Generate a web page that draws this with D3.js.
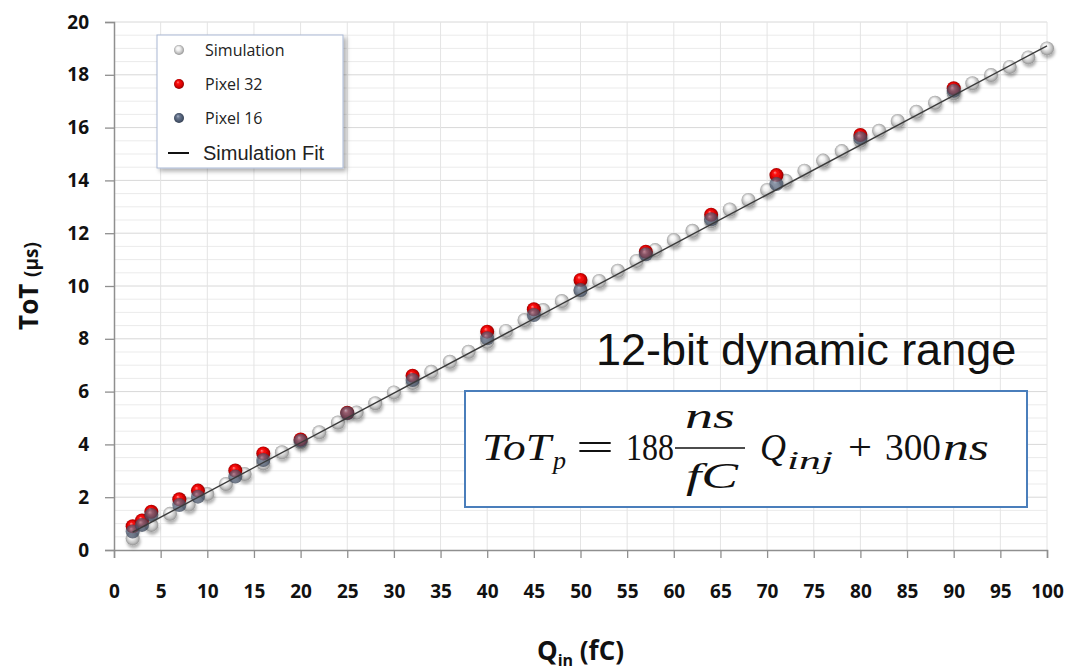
<!DOCTYPE html>
<html>
<head>
<meta charset="utf-8">
<script src="https://cdn.jsdelivr.net/npm/d3@7"></script>
<style>
  body { margin: 0; background: #fff; }
  svg { display: block; }
</style>
</head>
<body>
<svg width="1070" height="672"></svg>
<script>
// values
let simQ = [2, 4, 6, 8, 10, 12, 14, 16, 18, 20, 22, 24, 26, 28, 30, 32, 34, 36, 38, 40,
            42, 44, 46, 48, 50, 52, 54, 56, 58, 60, 62, 64, 66, 68, 70, 72, 74, 76, 78, 80,
            82, 84, 86, 88, 90, 92, 94, 96, 98, 100];
let simToT = [0.44, 0.95, 1.37, 1.72, 2.12, 2.50, 2.88, 3.28, 3.70, 4.08, 4.46, 4.83, 5.21, 5.56, 5.97, 6.33, 6.75, 7.13, 7.51, 7.89,
              8.30, 8.71, 9.09, 9.43, 9.82, 10.19, 10.58, 10.95, 11.36, 11.74, 12.09, 12.45, 12.90, 13.26, 13.64, 13.99, 14.37, 14.75, 15.11, 15.50,
              15.88, 16.25, 16.60, 16.94, 17.30, 17.68, 17.99, 18.30, 18.66, 19.00];

let pixQ = [2, 3, 4, 7, 9, 13, 16, 20, 25, 32, 40, 45, 50, 57, 64, 71, 80, 90];
let pix32ToT = [0.90, 1.12, 1.45, 1.92, 2.25, 3.01, 3.66, 4.19, 5.20, 6.60, 8.27, 9.12, 10.23, 11.30, 12.70, 14.20, 15.72, 17.49];
let pix16ToT = [0.70, 0.95, 1.33, 1.70, 2.02, 2.78, 3.41, 4.14, 5.18, 6.44, 8.02, 8.90, 9.85, 11.20, 12.53, 13.86, 15.60, 17.40];

let fitQ = [2, 100];
let fitToT = [0.68, 19.1];

let xTicks = [0, 5, 10, 15, 20, 25, 30, 35, 40, 45, 50, 55, 60, 65, 70, 75, 80, 85, 90, 95, 100];
let yTicks = [0, 2, 4, 6, 8, 10, 12, 14, 16, 18, 20];

let svg = d3.select("svg");
let defs = svg.append("defs");

// plot area
let x = d3.scaleLinear().domain([0, 100]).range([114, 1047]);
let y = d3.scaleLinear().domain([0, 20]).range([550, 22]);

// sphere gradients
function sphere(id, stops) {
  let g = defs.append("radialGradient").attr("id", id)
    .attr("cx", "50%").attr("cy", "50%").attr("r", "55%")
    .attr("fx", "38%").attr("fy", "30%");
  stops.forEach(s => g.append("stop").attr("offset", s[0]).attr("stop-color", s[1]));
}
sphere("gSim", [["0%", "#ffffff"], ["35%", "#f0f0f0"], ["70%", "#c0c0c0"], ["100%", "#858585"]]);
sphere("gRed", [["0%", "#ff8a8a"], ["25%", "#ff1010"], ["70%", "#d00000"], ["100%", "#700000"]]);
sphere("gBlue", [["0%", "#a8b4c8"], ["30%", "#6a7890"], ["75%", "#46536a"], ["100%", "#2a3444"]]);

let shadow = defs.append("filter").attr("id", "shadow")
  .attr("x", "-50%").attr("y", "-50%").attr("width", "200%").attr("height", "200%");
shadow.append("feDropShadow").attr("dx", 1).attr("dy", 3).attr("stdDeviation", 1.6)
  .attr("flood-color", "#000").attr("flood-opacity", 0.3);

let boxShadow = defs.append("filter").attr("id", "boxShadow")
  .attr("x", "-10%").attr("y", "-10%").attr("width", "130%").attr("height", "130%");
boxShadow.append("feDropShadow").attr("dx", 3).attr("dy", 3).attr("stdDeviation", 2)
  .attr("flood-color", "#000").attr("flood-opacity", 0.3);

// gridlines
let grid = svg.append("g");
grid.selectAll(".hmin")
  .data(d3.range(0.5, 20.01, 0.5))
  .enter().append("line")
  .attr("x1", x(0)).attr("x2", x(100))
  .attr("y1", d => y(d)).attr("y2", d => y(d))
  .attr("stroke", d => d % 2 === 0 ? "#d8d8d8" : "#ebebeb")
  .attr("stroke-width", 1);
grid.selectAll(".vmaj")
  .data(xTicks.slice(1))
  .enter().append("line")
  .attr("x1", d => x(d)).attr("x2", d => x(d))
  .attr("y1", y(0)).attr("y2", y(20))
  .attr("stroke", "#e4e4e4")
  .attr("stroke-width", 1);

// axes
let xAxis = d3.axisBottom(x).tickValues(xTicks).tickSize(8).tickPadding(27);
let gx = svg.append("g")
  .attr("transform", `translate(0, ${y(0)})`)
  .call(xAxis);

let yAxis = d3.axisLeft(y).tickValues(yTicks).tickSize(9).tickPadding(16);
let gy = svg.append("g")
  .attr("transform", `translate(${x(0)}, 0)`)
  .call(yAxis);

[gx, gy].forEach(g => {
  g.select(".domain").attr("stroke", "#8f8f8f").attr("stroke-width", 1.5);
  g.selectAll(".tick line").attr("stroke", "#8f8f8f").attr("stroke-width", 1.3);
  g.selectAll(".tick text")
    .attr("fill", "#111")
    .style("font-family", "'Open Sans', sans-serif")
    .style("font-weight", "bold")
    .style("font-size", "19px");
});

// simulation points
svg.append("g").selectAll("circle")
  .data(simQ.map((q, i) => [q, simToT[i]]))
  .enter().append("circle")
  .attr("cx", d => x(d[0]))
  .attr("cy", d => y(d[1]))
  .attr("r", 7)
  .attr("fill", "url(#gSim)")
  .attr("filter", "url(#shadow)");

// pixel 32
svg.append("g").selectAll("circle")
  .data(pixQ.map((q, i) => [q, pix32ToT[i]]))
  .enter().append("circle")
  .attr("cx", d => x(d[0]))
  .attr("cy", d => y(d[1]))
  .attr("r", 7)
  .attr("fill", "url(#gRed)")
  .attr("filter", "url(#shadow)");

// pixel 16
svg.append("g").selectAll("circle")
  .data(pixQ.map((q, i) => [q, pix16ToT[i]]))
  .enter().append("circle")
  .attr("cx", d => x(d[0]))
  .attr("cy", d => y(d[1]))
  .attr("r", 7)
  .attr("fill", "url(#gBlue)")
  .attr("opacity", 0.72);

// simulation fit
let line = d3.line().x(d => x(d[0])).y(d => y(d[1]));
svg.append("path")
  .datum(fitQ.map((q, i) => [q, fitToT[i]]))
  .attr("d", line)
  .attr("fill", "none")
  .attr("stroke", "#3a3a3a")
  .attr("stroke-width", 1.4);

// axis titles
let yt = svg.append("text")
  .attr("transform", `translate(38, ${(y(0) + y(20)) / 2}) rotate(-90)`)
  .attr("text-anchor", "middle")
  .style("font-family", "'Open Sans', sans-serif")
  .style("font-weight", "bold")
  .attr("fill", "#111");
yt.append("tspan").style("font-size", "26px").text("ToT ");
yt.append("tspan").style("font-size", "19px").text("(μs)");

let xt = svg.append("text")
  .attr("x", (x(0) + x(100)) / 2)
  .attr("y", 660)
  .attr("text-anchor", "middle")
  .style("font-family", "'Open Sans', sans-serif")
  .style("font-weight", "bold")
  .attr("fill", "#111");
xt.append("tspan").style("font-size", "26px").text("Q");
xt.append("tspan").style("font-size", "16px").attr("dy", 6).text("in");
xt.append("tspan").style("font-size", "26px").attr("dy", -6).text(" (fC)");

// legend
let legend = svg.append("g");
legend.append("rect")
  .attr("x", 157).attr("y", 35).attr("width", 186).attr("height", 133)
  .attr("fill", "#fff")
  .attr("stroke", "#a9b8d4")
  .attr("stroke-width", 1)
  .attr("filter", "url(#boxShadow)");

let legendItems = [
  { label: "Simulation", fill: "url(#gSim)", y: 50 },
  { label: "Pixel 32", fill: "url(#gRed)", y: 84 },
  { label: "Pixel 16", fill: "url(#gBlue)", y: 118 }
];
legendItems.forEach(d => {
  legend.append("circle")
    .attr("cx", 179).attr("cy", d.y).attr("r", 5)
    .attr("fill", d.fill);
  legend.append("text")
    .attr("x", 205).attr("y", d.y + 6)
    .style("font-family", "'Open Sans', sans-serif")
    .style("font-size", "16px")
    .attr("fill", "#222")
    .text(d.label);
});
legend.append("line")
  .attr("x1", 168).attr("x2", 189).attr("y1", 153).attr("y2", 153)
  .attr("stroke", "#111").attr("stroke-width", 2);
legend.append("text")
  .attr("x", 203).attr("y", 160)
  .style("font-family", "'Liberation Sans', Arial, sans-serif")
  .style("font-size", "20px")
  .attr("fill", "#222")
  .text("Simulation Fit");

// annotation
svg.append("text")
  .attr("x", 596).attr("y", 365)
  .style("font-family", "'Liberation Sans', Arial, sans-serif")
  .style("font-size", "45px")
  .attr("fill", "#111")
  .text("12-bit dynamic range");

svg.append("rect")
  .attr("x", 465).attr("y", 391).attr("width", 562).attr("height", 116)
  .attr("fill", "#fff")
  .attr("stroke", "#4a7ebb")
  .attr("stroke-width", 2);

// formula pieces
let fm = svg.append("g")
  .style("font-family", "'Liberation Serif', 'DejaVu Serif', serif")
  .attr("fill", "#111");
function piece(txt, px, py, w, size, italic) {
  fm.append("text")
    .attr("x", px).attr("y", py)
    .attr("textLength", w).attr("lengthAdjust", "spacingAndGlyphs")
    .style("font-size", size + "px")
    .style("font-style", italic ? "italic" : "normal")
    .text(txt);
}
piece("ToT", 482, 460, 69, 38, true);
piece("p", 553, 469, 13, 26, true);
piece("=", 576, 460, 38, 38, false);
piece("188", 626, 460, 48, 38, false);
piece("ns", 685, 428, 50, 36, true);
fm.append("line").attr("x1", 675).attr("x2", 745).attr("y1", 448).attr("y2", 448)
  .attr("stroke", "#111").attr("stroke-width", 1.6);
piece("fC", 686, 488, 52, 36, true);
piece("Q", 760, 460, 26, 38, true);
piece("inj", 787, 469, 46, 26, true);
piece("+", 848, 460, 24, 38, false);
piece("300", 885, 460, 56, 38, false);
piece("ns", 943, 460, 46, 38, true);
</script>
</body>
</html>
